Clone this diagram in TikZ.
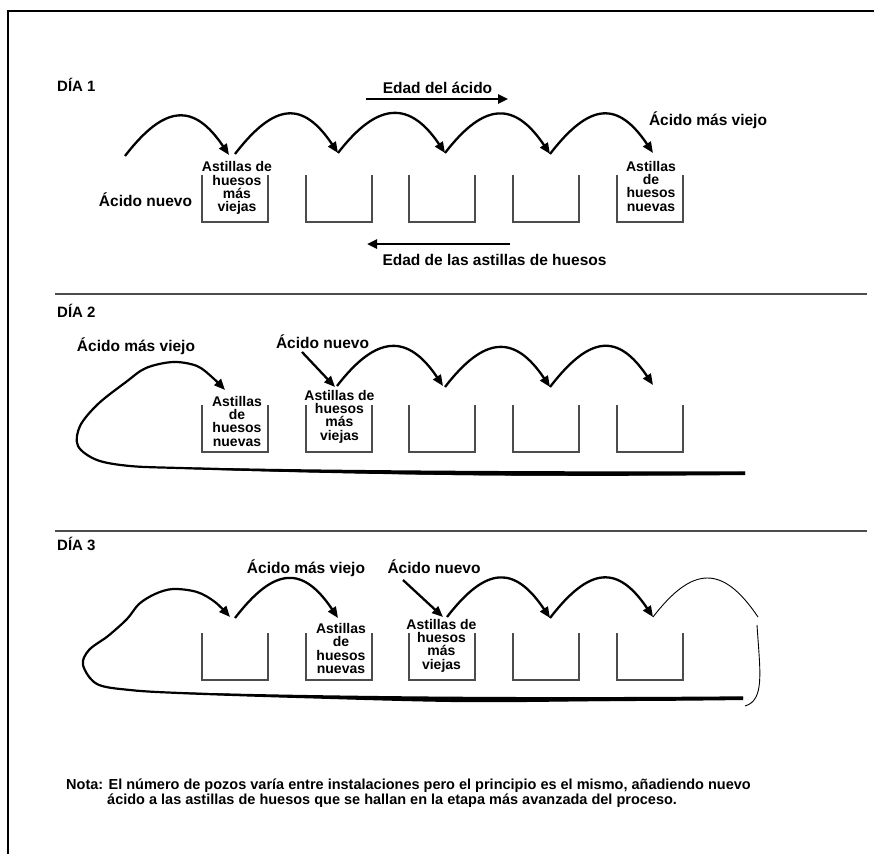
\documentclass[tikz,border=0pt]{standalone}
\usepackage{fontspec}
\setmainfont{Liberation Sans}
\usetikzlibrary{arrows.meta}
\begin{document}
\begin{tikzpicture}[x=1pt,y=-1pt,
  frame/.style={line width=2.2pt},
  sep/.style={line width=1.1pt,black!70},
  wellline/.style={line width=1.1pt,black!70},
  hop/.style={line width=2.3pt,-{Triangle[length=11pt,width=9pt]}},
  flow/.style={line width=2.4pt,-{Triangle[length=10pt,width=9pt]}},
  loopline/.style={line width=2.2pt,-{Triangle[length=11pt,width=9pt]}},
  thinline/.style={line width=0.9pt},
  lbl/.style={font=\fontsize{15.5}{18}\selectfont\bfseries,inner sep=0pt,anchor=base},
  day/.style={font=\fontsize{15}{18}\selectfont\bfseries,inner sep=0pt,anchor=base west},
  chips/.style={font=\fontsize{14}{13.3}\selectfont\bfseries,align=center,inner sep=0pt,anchor=north},
  nota/.style={font=\fontsize{14.5}{16}\selectfont\bfseries,inner sep=0pt,anchor=base west},
]
\useasboundingbox (0,0) rectangle (874,854);
% frame
\draw[frame] (8.3,854) -- (8.3,11) -- (874,11);
% separators
\draw[sep] (55,294) -- (867,294);
\draw[sep] (55,531) -- (867,531);
% wells
\foreach \t in {175,405,633}{
  \foreach \x in {202,306,409,513,617}{
    \draw[wellline] (\x,\t) -- (\x,\t+47) -- (\x+66,\t+47) -- (\x+66,\t);
  }
}
% ---------- DAY 1 ----------
\node[day] (d1) at (57,91) {DÍA 1};
\node[lbl] (edadacido) at (437.5,93) {Edad del ácido};
\coordinate (fa0) at (366,99);
\coordinate (fa1) at (508,99);
\draw[flow] (fa0) -- (fa1);
\node[lbl] (d1old) at (708,125) {Ácido más viejo};
\node[lbl] (d1new) at (145.5,206) {Ácido nuevo};
\node[chips] (d1c1) at (237,161.5) {Astillas de\\huesos\\más\\viejas};
\node[chips] (d1c5) at (651,161) {Astillas\\de\\huesos\\nuevas};
\coordinate (fb0) at (510,244);
\coordinate (fb1) at (367,244);
\draw[flow] (fb0) -- (fb1);
\node[lbl] (edadast) at (494.5,265) {Edad de las astillas de huesos};
\coordinate (d1a0) at (125,156);
\coordinate (d1e1) at (229,155);
\coordinate (d1s2) at (235,154);
\coordinate (d1e2) at (338,153);
\coordinate (d1e3) at (445,153);
\coordinate (d1e4) at (550,154);
\coordinate (d1e5) at (653,153);
\draw[hop] (d1a0) .. controls +(40,-52) and +(-35,-52) .. (d1e1);
\draw[hop] (d1s2) .. controls +(40,-52) and +(-35,-52) .. (d1e2);
\draw[hop] (d1e2) .. controls +(40,-52) and +(-35,-52) .. (d1e3);
\draw[hop] (d1e3) .. controls +(40,-52) and +(-35,-52) .. (d1e4);
\draw[hop] (d1e4) .. controls +(40,-52) and +(-35,-52) .. (d1e5);
% ---------- DAY 2 ----------
\node[day] (d2) at (57,317) {DÍA 2};
\node[lbl] (d2old) at (136,351) {Ácido más viejo};
\node[lbl] (d2new) at (322.5,348) {Ácido nuevo};
\node[chips] (d2c1) at (237,396) {Astillas\\de\\huesos\\nuevas};
\node[chips] (d2c2) at (339.5,390) {Astillas de\\huesos\\más\\viejas};
\coordinate (d2L0) at (745,473);
\coordinate (d2L1) at (225,390);
\fill (180,467.3) .. controls (400,471.5) and (600,471.5) .. (745,471.3) -- (745,475) .. controls (600,476.5) and (400,476.5) .. (180,468.7) -- cycle;
\draw[loopline] plot[smooth,tension=0.55] coordinates {(d2L0) (600,474.5) (460,474) (300,471) (180,468) (130,466) (97,460) (78,446) (80,426) (98,404) (126,382) (146,368) (173,362) (197,366) (213,378) (d2L1)};
\coordinate (d2n0) at (302,352);
\coordinate (d2n1) at (335,387);
\draw[hop] (d2n0) -- (d2n1);
\coordinate (d2s1) at (337,386);
\coordinate (d2e1) at (443,386);
\coordinate (d2s2) at (445,387);
\coordinate (d2e2) at (550,387);
\coordinate (d2e3) at (653,385);
\draw[hop] (d2s1) .. controls +(40,-52) and +(-35,-52) .. (d2e1);
\draw[hop] (d2s2) .. controls +(40,-52) and +(-35,-52) .. (d2e2);
\draw[hop] (d2e2) .. controls +(40,-52) and +(-35,-52) .. (d2e3);
% ---------- DAY 3 ----------
\node[day] (d3) at (57,550.5) {DÍA 3};
\node[lbl] (d3old) at (306,573) {Ácido más viejo};
\node[lbl] (d3new) at (434,573) {Ácido nuevo};
\node[chips] (d3c2) at (341,623.3) {Astillas\\de\\huesos\\nuevas};
\node[chips] (d3c3) at (441.5,619) {Astillas de\\huesos\\más\\viejas};
\coordinate (d3L0) at (743,698);
\coordinate (d3L1) at (230,617);
\fill (180,692.3) .. controls (400,698) and (600,697.5) .. (743,696.3) -- (743,700) .. controls (600,702) and (400,702) .. (180,693.7) -- cycle;
\draw[loopline] plot[smooth,tension=0.55] coordinates {(d3L0) (600,700) (460,701) (300,697) (180,693) (130,690) (97,684) (83,665) (89,650) (108,636) (127,619) (139,604) (155,594) (173,589) (197,592) (215,602) (d3L1)};
\coordinate (d3s1) at (235,618);
\coordinate (d3e1) at (338,618);
\draw[hop] (d3s1) .. controls +(40,-52) and +(-35,-52) .. (d3e1);
\coordinate (d3n0) at (403,580);
\coordinate (d3n1) at (443,617);
\draw[hop] (d3n0) -- (d3n1);
\coordinate (d3s2) at (447,617);
\coordinate (d3e2) at (550,618);
\coordinate (d3e3) at (653,617);
\coordinate (d3e4) at (758,617);
\draw[hop] (d3s2) .. controls +(40,-52) and +(-35,-52) .. (d3e2);
\draw[hop] (d3e2) .. controls +(40,-52) and +(-35,-52) .. (d3e3);
\draw[thinline] (d3e3) .. controls +(40,-52) and +(-35,-52) .. (d3e4);
\coordinate (br0) at (757,625);
\coordinate (br1) at (745,706);
\draw[thinline] (br0) .. controls (760,672) and (765,700) .. (br1);
% ---------- NOTE ----------
\node[nota] (nota1) at (66,789) {Nota: El número de pozos varía entre instalaciones pero el principio es el mismo, añadiendo nuevo};
\node[nota] (nota2) at (107,804) {ácido a las astillas de huesos que se hallan en la etapa más avanzada del proceso.};
\end{tikzpicture}
\end{document}
